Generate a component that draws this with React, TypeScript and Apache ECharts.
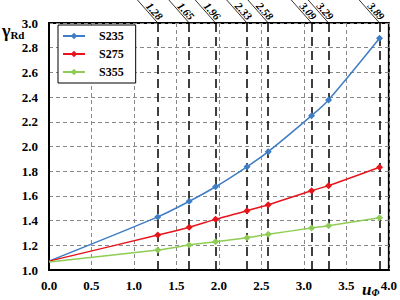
import React, { useEffect, useRef } from "react";
import * as echarts from "echarts";

const xValues = [0, 1.28, 1.65, 1.96, 2.33, 2.58, 3.09, 3.29, 3.89];
const s235 = [1.072, 1.43, 1.556, 1.674, 1.836, 1.958, 2.25, 2.377, 2.876];
const s275 = [1.072, 1.283, 1.346, 1.41, 1.48, 1.529, 1.642, 1.683, 1.832];
const s355 = [1.065, 1.162, 1.202, 1.229, 1.262, 1.289, 1.34, 1.359, 1.424];
const markValues = [1.28, 1.65, 1.96, 2.33, 2.58, 3.09, 3.29, 3.89];
const markLabels = ["1.28", "1.65", "1.96", "2.33", "2.58", "3.09", "3.29", "3.89"];

const FONT = "Liberation Serif";

function mkData(ys: number[]) {
  return xValues.map((x, i) =>
    i === 0 ? { value: [x, ys[i]], symbol: "none" } : { value: [x, ys[i]] }
  );
}

export default function App() {
  const ref = useRef<HTMLDivElement>(null);
  useEffect(() => {
    if (!ref.current) return;
    const chart = echarts.init(ref.current, null, { renderer: "svg" });
    const mkSeries = (name: string, color: string, ys: number[], withMarks: boolean) => ({
      name,
      type: "line",
      data: mkData(ys),
      smooth: 0.3,
      symbol: "diamond",
      symbolSize: 7,
      itemStyle: { color },
      lineStyle: { color, width: 1.5 },
      z: 5,
      markLine: withMarks
        ? {
            silent: true,
            symbol: "none",
            label: { show: false },
            lineStyle: { color: "#000", type: [9, 5], width: 1.5 },
            data: markValues.map((v) => ({ xAxis: v })),
            z: 2,
          }
        : undefined,
    });
    chart.setOption({
      animation: false,
      backgroundColor: "#fff",
      textStyle: { fontFamily: FONT },
      grid: {
        left: 49,
        right: 7,
        top: 23,
        bottom: 30,
        show: true,
        borderColor: "#000",
        borderWidth: 2,
      },
      legend: {
        orient: "vertical",
        left: 58,
        top: 25,
        padding: [5, 12, 5, 4],
        itemWidth: 22,
        itemHeight: 8,
        itemGap: 6,
        borderColor: "#000",
        borderWidth: 1,
        backgroundColor: "#fff",
        textStyle: {
          fontFamily: FONT,
          fontWeight: "bold",
          fontSize: 12,
          color: "#000",
          padding: [0, 0, 0, 9],
        },
        data: ["S235", "S275", "S355"],
      },
      xAxis: {
        type: "value",
        min: 0,
        max: 4,
        interval: 0.5,
        axisLine: { show: true, lineStyle: { color: "#000", width: 2 } },
        axisTick: { show: false },
        axisLabel: {
          formatter: (v: number) => v.toFixed(1),
          fontFamily: FONT,
          fontWeight: "bold",
          fontSize: 13,
          color: "#000",
          margin: 9,
        },
        splitLine: { show: true, lineStyle: { color: "#888", type: [4, 3], width: 1 } },
      },
      yAxis: {
        type: "value",
        min: 1,
        max: 3,
        interval: 0.2,
        axisLine: { show: true, lineStyle: { color: "#000", width: 2 } },
        axisTick: { show: false },
        axisLabel: {
          formatter: (v: number) => v.toFixed(1),
          fontFamily: FONT,
          fontWeight: "bold",
          fontSize: 13,
          color: "#000",
          margin: 11,
        },
        splitLine: { show: true, lineStyle: { color: "#888", type: [4, 3], width: 1 } },
      },
      series: [
        mkSeries("S235", "#3f7dc4", s235, true),
        mkSeries("S275", "#e8141c", s275, false),
        mkSeries("S355", "#8fcc55", s355, false),
      ],
    });

    const topY = chart.convertToPixel({ yAxisIndex: 0 }, 3) as number;
    const dx = 30;
    const dy = 34;
    const len = Math.sqrt(dx * dx + dy * dy);
    const ux = -dx / len;
    const uy = -dy / len;
    const rot = -Math.atan2(dy, dx);
    const graphics: any[] = [];
    markValues.forEach((v, i) => {
      const px = chart.convertToPixel({ xAxisIndex: 0 }, v) as number;
      graphics.push({
        type: "line",
        shape: { x1: px, y1: topY, x2: px - dx, y2: topY - dy },
        style: { stroke: "#000", lineWidth: 0.8 },
        silent: true,
      });
      graphics.push({
        type: "text",
        x: px + ux * 1.5,
        y: topY + uy * 1.5,
        rotation: rot,
        style: {
          text: markLabels[i],
          fontFamily: FONT,
          fontWeight: "bold",
          fontStyle: "italic",
          fontSize: 11,
          fill: "#000",
          align: "right",
          verticalAlign: "bottom",
        },
        silent: true,
      });
    });
    graphics.push({
      type: "text",
      left: 2,
      top: 22,
      style: {
        text: "{g|γ}{s|Rd}",
        rich: {
          g: { fontFamily: FONT, fontWeight: "bold", fontSize: 18, fill: "#000" },
          s: { fontFamily: FONT, fontWeight: "bold", fontSize: 11, fill: "#000", padding: [8, 0, 0, 0] },
        },
      },
    });
    graphics.push({
      type: "text",
      left: 362,
      top: 281,
      style: {
        text: "{u|u}{s|Φ}",
        rich: {
          u: { fontFamily: FONT, fontWeight: "bold", fontStyle: "italic", fontSize: 17, fill: "#000" },
          s: { fontFamily: FONT, fontWeight: "bold", fontStyle: "italic", fontSize: 10, fill: "#000", padding: [5, 0, 0, 0] },
        },
      },
    });
    chart.setOption({ graphic: graphics });

    return () => chart.dispose();
  }, []);
  return (
    <div
      ref={ref}
      style={{ position: "absolute", left: 0, top: 0, width: 400, height: 300 }}
    />
  );
}
